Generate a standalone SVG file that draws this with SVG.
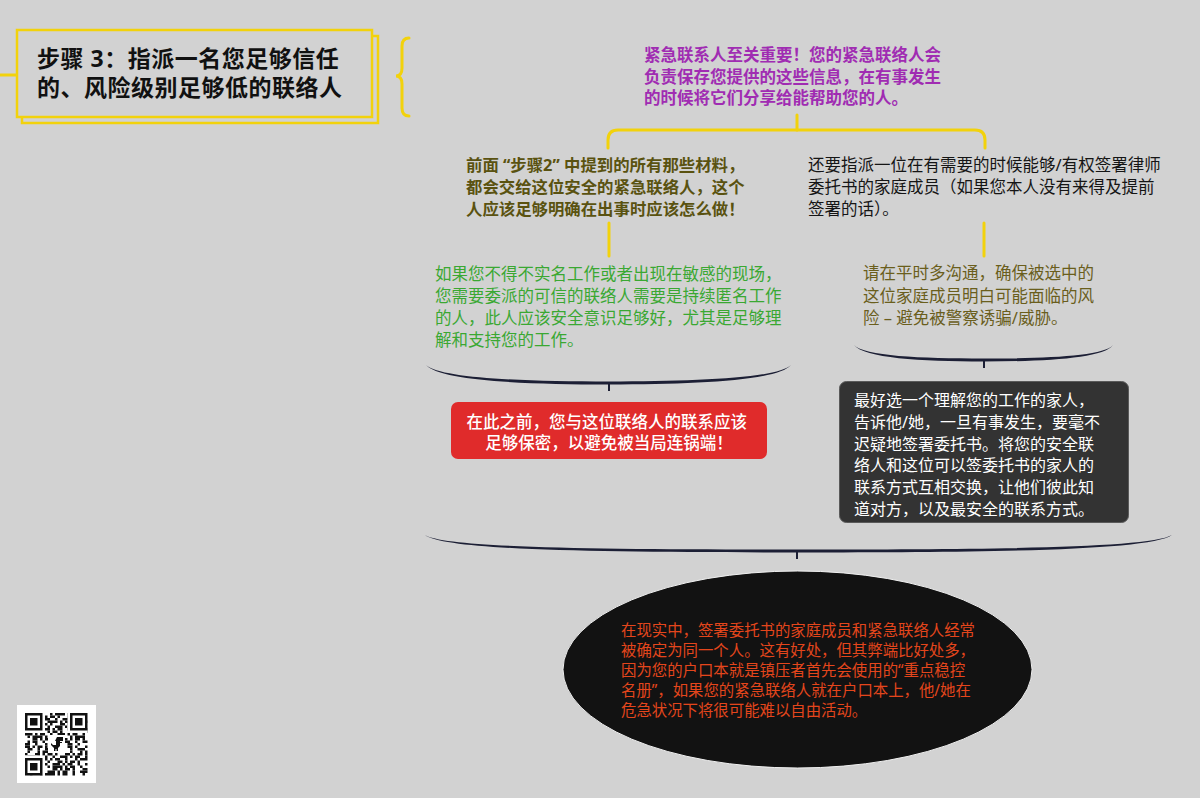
<svg xmlns="http://www.w3.org/2000/svg" width="1200" height="798" viewBox="0 0 1200 798">
<style>
.t{font-family:"Noto Sans","Noto Sans CJK SC",sans-serif;}
.y{stroke:#f2d20c;stroke-width:3;fill:none;stroke-linecap:round;}
.nv{fill:#1c1f35;}
.tick{stroke:#1c1f35;stroke-width:2;}
.q{stroke:#111;stroke-width:2.5;}
.q1{stroke-dasharray:2.5 2.5 5 5 2.5 7.5 2.5 2.5 10 2.5;}
.q2{stroke-dasharray:5 2.5 2.5 7.5 5 2.5 2.5 2.5;}
.q3{stroke-dasharray:2.5 5 7.5 2.5 2.5 2.5 5 5;}
</style>
<rect width="1200" height="798" fill="#d2d2d2"/>

<g id="connectors">
  <line class="y" x1="0" y1="75" x2="17" y2="75"/>
  <path class="y" d="M409,38 Q402,38 402,46 L402,68 Q402,76 396,76 Q402,76 402,84 L402,108 Q402,116 409,116"/>
  <line class="y" x1="797" y1="115" x2="797" y2="130"/>
  <path class="y" d="M608,148 L608,140 Q608,130 618,130 L975,130 Q985,130 985,140 L985,148"/>
  <line class="y" x1="609" y1="223" x2="609" y2="256"/>
  <line class="y" x1="984" y1="223" x2="984" y2="256"/>
  <path class="nv" d="M426,365 C440,378 520,381.5 609,381.5 C698,381.5 778,378 791,365 C778,380.5 698,384.5 609,384.5 C520,384.5 440,380.5 426,365 Z"/>
  <line class="tick" x1="609" y1="384" x2="609" y2="391"/>
  <path class="nv" d="M854,345 C864,356 920,358.5 984,358.5 C1048,358.5 1104,356 1113,345 C1104,358 1048,361.5 984,361.5 C920,361.5 864,358 854,345 Z"/>
  <line class="tick" x1="984" y1="361" x2="984" y2="368"/>
  <path class="nv" d="M425,535 C445,548 600,549.5 797,549.5 C994,549.5 1150,548 1172,535 C1150,550.5 994,552.5 797,552.5 C600,552.5 445,550.5 425,535 Z"/>
  <line class="tick" x1="797" y1="552" x2="797" y2="559"/>
</g>

<g id="title">
  <rect x="22" y="36" width="356" height="87" fill="#d2d2d2" stroke="#f2d20c" stroke-width="2.5"/>
  <rect x="17" y="30" width="355" height="87" fill="#d2d2d2" stroke="#f2d20c" stroke-width="2.5"/>
  <text class="t" font-size="23" letter-spacing="0.5" font-weight="bold" fill="#111">
    <tspan x="37" y="67">步骤 3：指派一名您足够信任</tspan>
    <tspan x="37" y="96">的、风险级别足够低的联络人</tspan>
  </text>
</g>

<g id="purple">
  <text class="t" font-size="16.5" font-weight="bold" fill="#a02cb2">
    <tspan x="644" y="61">紧急联系人至关重要！您的紧急联络人会</tspan>
    <tspan x="644" y="83">负责保存您提供的这些信息，在有事发生</tspan>
    <tspan x="644" y="104">的时候将它们分享给能帮助您的人。</tspan>
  </text>
</g>

<g id="olive-left">
  <text class="t" font-size="16.4" font-weight="bold" fill="#5a5210">
    <tspan x="466" y="171">前面 “步骤2” 中提到的所有那些材料，</tspan>
    <tspan x="466" y="193">都会交给这位安全的紧急联络人，这个</tspan>
    <tspan x="466" y="215">人应该足够明确在出事时应该怎么做！</tspan>
  </text>
</g>

<g id="black-right">
  <text class="t" font-size="16.5" fill="#151515">
    <tspan x="808" y="171">还要指派一位在有需要的时候能够/有权签署律师</tspan>
    <tspan x="808" y="193">委托书的家庭成员（如果您本人没有来得及提前</tspan>
    <tspan x="808" y="215">签署的话）。</tspan>
  </text>
</g>

<g id="green">
  <text class="t" font-size="16.5" fill="#3aa832">
    <tspan x="435" y="280">如果您不得不实名工作或者出现在敏感的现场，</tspan>
    <tspan x="435" y="302">您需要委派的可信的联络人需要是持续匿名工作</tspan>
    <tspan x="435" y="324">的人，此人应该安全意识足够好，尤其是足够理</tspan>
    <tspan x="435" y="346">解和支持您的工作。</tspan>
  </text>
</g>

<g id="olive-right">
  <text class="t" font-size="16.5" fill="#6a5e1c">
    <tspan x="863" y="279">请在平时多沟通，确保被选中的</tspan>
    <tspan x="863" y="302">这位家庭成员明白可能面临的风</tspan>
    <tspan x="863" y="324">险 – 避免被警察诱骗/威胁。</tspan>
  </text>
</g>

<g id="red-box">
  <rect x="451" y="402" width="316" height="57" rx="7" fill="#e02b2b"/>
  <text class="t" font-size="16.5" font-weight="500" fill="#fff" text-anchor="middle">
    <tspan x="609" y="428">在此之前，您与这位联络人的联系应该</tspan>
    <tspan x="609" y="449">足够保密，以避免被当局连锅端！</tspan>
  </text>
</g>

<g id="dark-box">
  <rect x="839.5" y="381.5" width="289" height="141" rx="7" fill="#333" stroke="#5a5a5a" stroke-width="1"/>
  <text class="t" font-size="16" fill="#fff">
    <tspan x="854" y="406">最好选一个理解您的工作的家人，</tspan>
    <tspan x="854" y="428">告诉他/她，一旦有事发生，要毫不</tspan>
    <tspan x="854" y="449.5">迟疑地签署委托书。将您的安全联</tspan>
    <tspan x="854" y="471">络人和这位可以签委托书的家人的</tspan>
    <tspan x="854" y="493">联系方式互相交换，让他们彼此知</tspan>
    <tspan x="854" y="514.5">道对方，以及最安全的联系方式。</tspan>
  </text>
</g>

<g id="ellipse">
  <ellipse cx="797.5" cy="669.5" rx="234.5" ry="98.5" fill="#121212" stroke="#f0f0f0" stroke-width="1"/>
  <text class="t" font-size="15.4" fill="#e4461c">
    <tspan x="621" y="636">在现实中，签署委托书的家庭成员和紧急联络人经常</tspan>
    <tspan x="621" y="656">被确定为同一个人。这有好处，但其弊端比好处多，</tspan>
    <tspan x="621" y="676">因为您的户口本就是镇压者首先会使用的“重点稳控</tspan>
    <tspan x="621" y="696">名册”，如果您的紧急联络人就在户口本上，他/她在</tspan>
    <tspan x="621" y="716">危急状况下将很可能难以自由活动。</tspan>
  </text>
</g>

<g id="qr">
  <rect x="17" y="705" width="79" height="78" fill="#fff"/>
  <g class="q">
    <line class="q1" x1="25" y1="714.25" x2="87.5" y2="714.25"/>
    <line class="q2" x1="25" y1="716.75" x2="87.5" y2="716.75" stroke-dashoffset="5"/>
    <line class="q3" x1="25" y1="719.25" x2="87.5" y2="719.25" stroke-dashoffset="2.5"/>
    <line class="q1" x1="25" y1="721.75" x2="87.5" y2="721.75" stroke-dashoffset="7.5"/>
    <line class="q2" x1="25" y1="724.25" x2="87.5" y2="724.25" stroke-dashoffset="12.5"/>
    <line class="q3" x1="25" y1="726.75" x2="87.5" y2="726.75" stroke-dashoffset="10"/>
    <line class="q1" x1="25" y1="729.25" x2="87.5" y2="729.25" stroke-dashoffset="15"/>
    <line class="q2" x1="25" y1="731.75" x2="87.5" y2="731.75" stroke-dashoffset="2.5"/>
    <line class="q3" x1="25" y1="734.25" x2="87.5" y2="734.25" stroke-dashoffset="7.5"/>
    <line class="q1" x1="25" y1="736.75" x2="87.5" y2="736.75" stroke-dashoffset="22.5"/>
    <line class="q2" x1="25" y1="739.25" x2="87.5" y2="739.25" stroke-dashoffset="10"/>
    <line class="q3" x1="25" y1="741.75" x2="87.5" y2="741.75" stroke-dashoffset="15"/>
    <line class="q1" x1="25" y1="744.25" x2="87.5" y2="744.25" stroke-dashoffset="5"/>
    <line class="q2" x1="25" y1="746.75" x2="87.5" y2="746.75" stroke-dashoffset="17.5"/>
    <line class="q3" x1="25" y1="749.25" x2="87.5" y2="749.25" stroke-dashoffset="20"/>
    <line class="q1" x1="25" y1="751.75" x2="87.5" y2="751.75" stroke-dashoffset="12.5"/>
    <line class="q2" x1="25" y1="754.25" x2="87.5" y2="754.25" stroke-dashoffset="7.5"/>
    <line class="q3" x1="25" y1="756.75" x2="87.5" y2="756.75" stroke-dashoffset="5"/>
    <line class="q1" x1="25" y1="759.25" x2="87.5" y2="759.25" stroke-dashoffset="17.5"/>
    <line class="q2" x1="25" y1="761.75" x2="87.5" y2="761.75" stroke-dashoffset="15"/>
    <line class="q3" x1="25" y1="764.25" x2="87.5" y2="764.25" stroke-dashoffset="12.5"/>
    <line class="q1" x1="25" y1="766.75" x2="87.5" y2="766.75" stroke-dashoffset="2.5"/>
    <line class="q2" x1="25" y1="769.25" x2="87.5" y2="769.25" stroke-dashoffset="20"/>
    <line class="q3" x1="25" y1="771.75" x2="87.5" y2="771.75" stroke-dashoffset="17.5"/>
    <line class="q1" x1="25" y1="774.25" x2="87.5" y2="774.25" stroke-dashoffset="10"/>
  </g>
  <rect x="25" y="713" width="20" height="20" fill="#fff"/>
  <rect x="67.5" y="713" width="20" height="20" fill="#fff"/>
  <rect x="25" y="755.5" width="20" height="20" fill="#fff"/>
  <rect x="26.25" y="714.25" width="15" height="15" fill="none" stroke="#111" stroke-width="2.5"/>
  <rect x="30" y="718" width="7.5" height="7.5" fill="#111"/>
  <rect x="71.25" y="714.25" width="15" height="15" fill="none" stroke="#111" stroke-width="2.5"/>
  <rect x="75" y="718" width="7.5" height="7.5" fill="#111"/>
  <rect x="26.25" y="759.25" width="15" height="15" fill="none" stroke="#111" stroke-width="2.5"/>
  <rect x="30" y="763" width="7.5" height="7.5" fill="#111"/>
  <rect x="48" y="735" width="17" height="18" fill="#fff"/>
  <path d="M57,737 h6 v4 h-3 v1 h2 v1 h-2 v3 l-2,2 v3 h-1.5 v-2 h-1 v2 h-1.5 v-3 l-3,-3 v-2 l2,2 h3 v-4 h-1 z" fill="#111"/>
</g>
</svg>
